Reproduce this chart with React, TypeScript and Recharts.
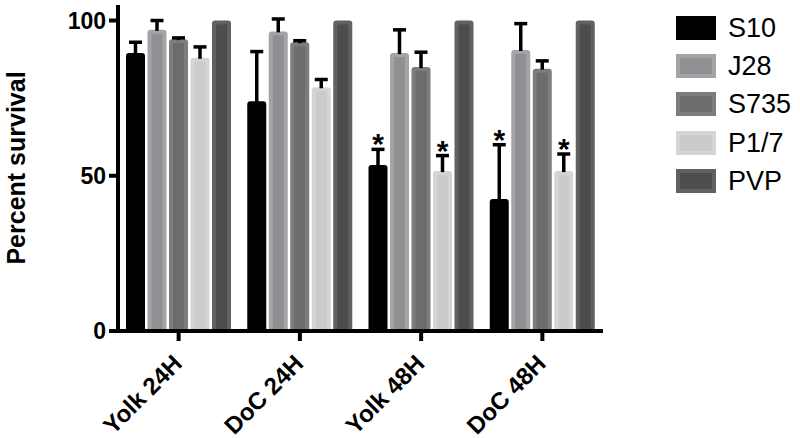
import React from "react";
import { BarChart, Bar, XAxis, YAxis } from "recharts";

const categories = ["Yolk 24H", "DoC 24H", "Yolk 48H", "DoC 48H"];
const s10 = [89.5, 74, 53.5, 42.5];
const s10Err = [3.5, 16, 5, 17.5];
const j28 = [97, 96.5, 89.5, 90.5];
const j28Err = [3, 4, 7.5, 8.5];
const s735 = [94, 93, 85, 84.5];
const s735Err = [0.4, 0.5, 4.8, 2.5];
const p17 = [88, 78.5, 51.5, 51.5];
const p17Err = [3.5, 2.5, 5, 5.5];
const pvp = [100, 100, 100, 100];
const pvpErr = [0, 0, 0, 0];
const s10Sig = [false, false, true, true];
const p17Sig = [false, false, true, true];
const yTicks = [0, 50, 100];

const series = [
  { key: "S10", values: s10, errs: s10Err, sig: s10Sig, outer: "#000000", inner: "#000000" },
  { key: "J28", values: j28, errs: j28Err, sig: null, outer: "#a4a4a6", inner: "#909094" },
  { key: "S735", values: s735, errs: s735Err, sig: null, outer: "#7d7d7d", inner: "#6c6c6c" },
  { key: "P1/7", values: p17, errs: p17Err, sig: p17Sig, outer: "#d5d5d5", inner: "#cbcbcb" },
  { key: "PVP", values: pvp, errs: pvpErr, sig: null, outer: "#616161", inner: "#4d4d4d" },
];

const data = categories.map((name, i) => {
  const row: any = { name };
  series.forEach((s) => {
    row[s.key] = s.values[i];
    row[s.key + "_err"] = s.errs[i];
    row[s.key + "_sig"] = s.sig ? s.sig[i] : false;
  });
  return row;
});

const FONT = "Arial, 'Liberation Sans', Helvetica, sans-serif";

// bar with lighter rim, upward error bar and optional significance star
function makeShape(key: string, outer: string, inner: string) {
  return (props: any) => {
    const { x, y, width, height, payload } = props;
    if (!height || height <= 0) return null;
    const val = payload[key];
    const err = payload[key + "_err"];
    const sig = payload[key + "_sig"];
    const perUnit = height / val;
    const errTop = y - err * perUnit;
    const cx = x + width / 2;
    const r = 3;
    const inset = 4;
    const outline = `M${x},${y + height} L${x},${y + r} Q${x},${y} ${x + r},${y} L${x + width - r},${y} Q${x + width},${y} ${x + width},${y + r} L${x + width},${y + height} Z`;
    return (
      <g>
        <path d={outline} fill={outer} />
        <rect x={x + inset} y={y + inset} width={width - inset * 2} height={height - inset} fill={inner} />
        {err > 0 && (
          <g stroke="#000" strokeWidth={3.5}>
            <line x1={cx} x2={cx} y1={y + 1} y2={errTop} />
            <line x1={cx - 6.5} x2={cx + 6.5} y1={errTop} y2={errTop} />
          </g>
        )}
        {sig && (
          <text x={cx} y={errTop + 5} textAnchor="middle" fontFamily={FONT} fontWeight="bold" fontSize={30} fill="#000">
            *
          </text>
        )}
      </g>
    );
  };
}

function XTick(props: any) {
  const { x, y, payload } = props;
  return (
    <text
      x={x + 5}
      y={y + 22}
      textAnchor="end"
      transform={`rotate(-45, ${x + 5}, ${y + 22})`}
      fontFamily={FONT}
      fontWeight="bold"
      fontSize={24}
      fill="#000"
    >
      {payload.value}
    </text>
  );
}

function YTick(props: any) {
  const { x, y, payload } = props;
  return (
    <text x={x - 1} y={y + 8} textAnchor="end" fontFamily={FONT} fontWeight="bold" fontSize={23} fill="#000">
      {payload.value}
    </text>
  );
}

function LegendBox() {
  return (
    <div style={{ position: "absolute", left: 676, top: 9, fontFamily: FONT }}>
      {series.map((s) => (
        <div key={s.key} style={{ display: "flex", alignItems: "center", height: 38.2 }}>
          <svg width={40} height={24} style={{ display: "block" }}>
            <rect x={0} y={0} width={40} height={24} fill={s.outer} />
            <rect x={4} y={4} width={32} height={16} fill={s.inner} />
          </svg>
          <span style={{ fontSize: 27, marginLeft: 12, color: "#000", lineHeight: "24px" }}>{s.key}</span>
        </div>
      ))}
    </div>
  );
}

export default function App() {
  return (
    <div style={{ position: "absolute", left: 0, top: 0, width: 800, height: 438, background: "#fff" }}>
      <BarChart
        width={800}
        height={438}
        data={data}
        margin={{ top: 5, right: 197, bottom: 0, left: 0 }}
        barCategoryGap={8}
        barGap={2.5}
      >
        <XAxis
          dataKey="name"
          height={107}
          axisLine={{ stroke: "#000", strokeWidth: 4 }}
          tickLine={{ stroke: "#000", strokeWidth: 4 }}
          tickSize={10}
          tick={<XTick />}
          interval={0}
        />
        <YAxis
          width={118}
          domain={[0, 105]}
          ticks={yTicks}
          axisLine={{ stroke: "#000", strokeWidth: 4 }}
          tickLine={{ stroke: "#000", strokeWidth: 4 }}
          tickSize={9}
          tick={<YTick />}
          label={{
            content: () => (
              <text
                x={25}
                y={168}
                transform="rotate(-90, 25, 168)"
                textAnchor="middle"
                fontFamily={FONT}
                fontWeight="bold"
                fontSize={25}
                fill="#000"
              >
                Percent survival
              </text>
            ),
          }}
        />
        {series.map((s) => (
          <Bar
            key={s.key}
            dataKey={s.key}
            fill={s.outer}
            shape={makeShape(s.key, s.outer, s.inner)}
            isAnimationActive={false}
          />
        ))}
      </BarChart>
      <LegendBox />
    </div>
  );
}
